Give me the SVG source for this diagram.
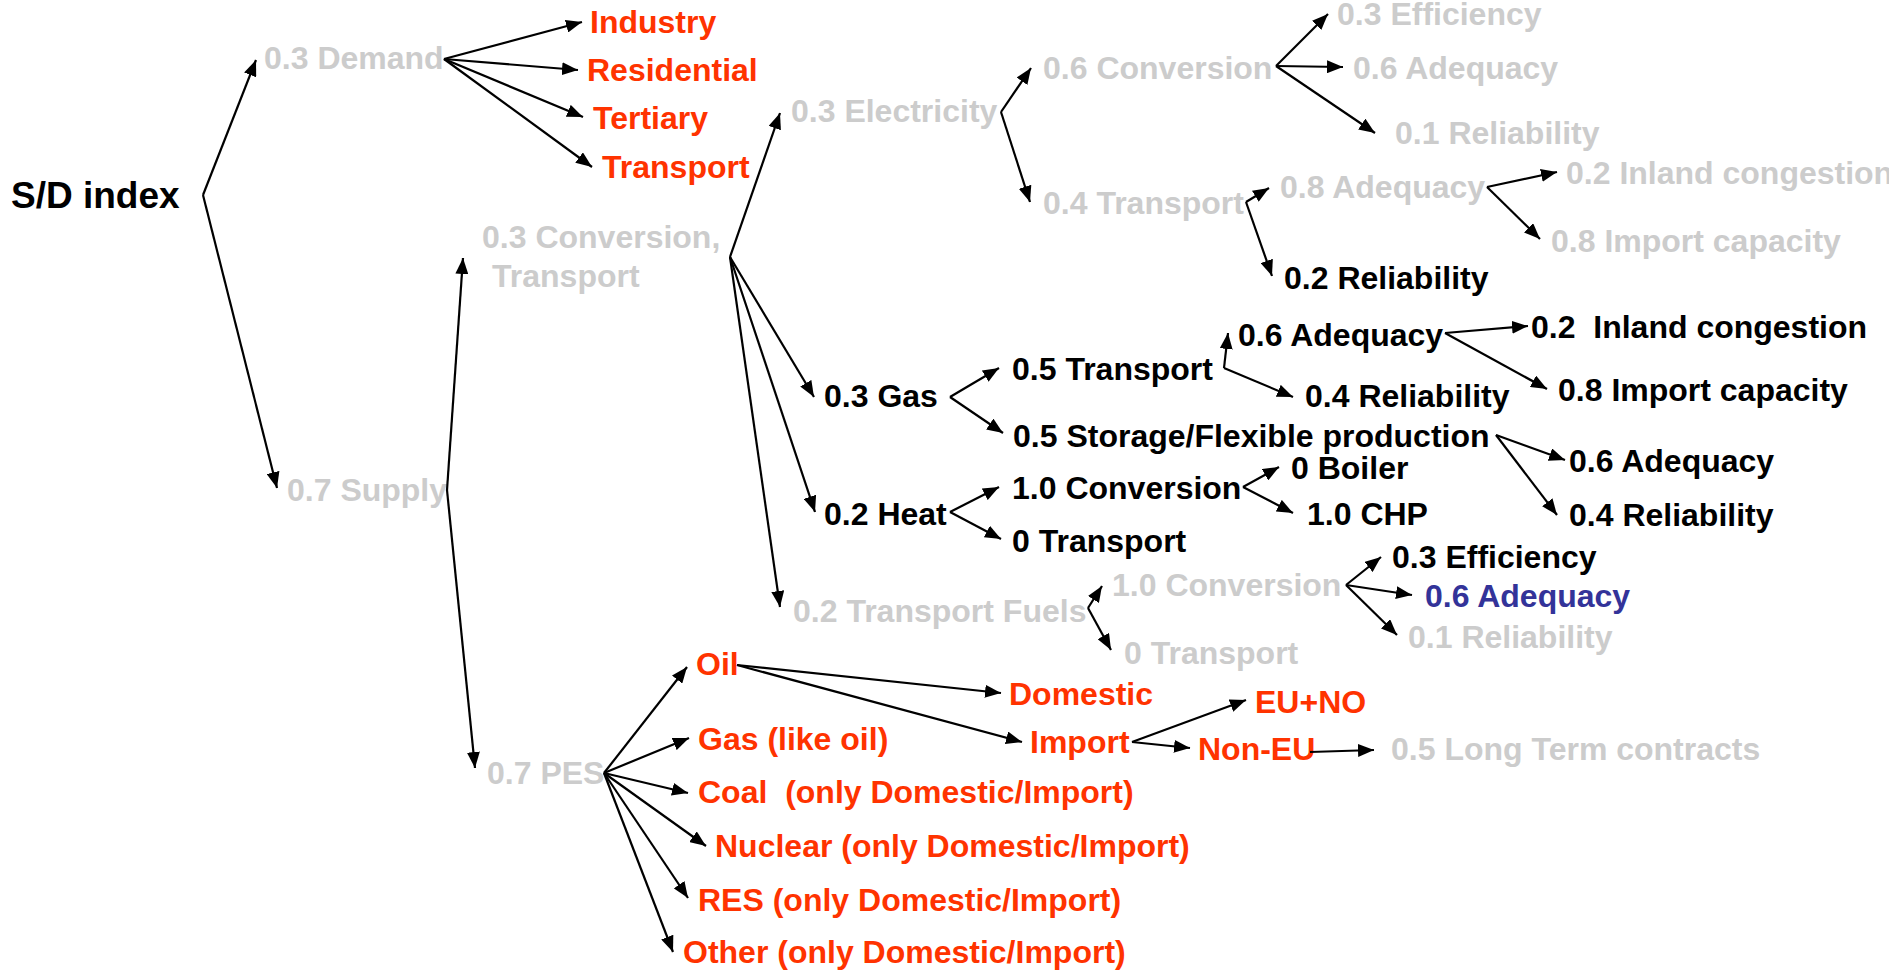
<svg xmlns="http://www.w3.org/2000/svg" width="1889" height="972" viewBox="0 0 1889 972">
<defs>
<marker id="ah" markerUnits="userSpaceOnUse" markerWidth="17" markerHeight="13" refX="16" refY="6.5" orient="auto">
<path d="M0,0 L16,6.5 L0,13 z" fill="#000"/>
</marker>
<style>
text{font-family:"Liberation Sans",Arial,sans-serif;font-weight:bold;font-size:32px;white-space:pre}
.g{fill:#cccccc}.r{fill:#ff3300}.k{fill:#000}.b{fill:#333399}
.c line{stroke:#000;stroke-width:2.2;marker-end:url(#ah)}
</style>
</defs>
<rect width="1889" height="972" fill="#fff"/>
<g id="root"><text class="k" x="11" y="208" style="font-size:37px">S/D index</text></g>
<g id="demand"><text class="g" x="264" y="69">0.3 Demand</text></g>
<g id="industry"><text class="r" x="590" y="33">Industry</text></g>
<g id="residential"><text class="r" x="587" y="81">Residential</text></g>
<g id="tertiary"><text class="r" x="593" y="129">Tertiary</text></g>
<g id="transport-d"><text class="r" x="602" y="178">Transport</text></g>
<g id="supply"><text class="g" x="287" y="501">0.7 Supply</text></g>
<g id="convtrans"><text class="g" x="482" y="248">0.3 Conversion,</text><text class="g" x="492" y="287">Transport</text></g>
<g id="electricity"><text class="g" x="791" y="122">0.3 Electricity</text></g>
<g id="e-conv"><text class="g" x="1043" y="79">0.6 Conversion</text></g>
<g id="e-conv-eff"><text class="g" x="1337" y="25">0.3 Efficiency</text></g>
<g id="e-conv-adq"><text class="g" x="1353" y="79">0.6 Adequacy</text></g>
<g id="e-conv-rel"><text class="g" x="1395" y="144">0.1 Reliability</text></g>
<g id="e-trans"><text class="g" x="1043" y="214">0.4 Transport</text></g>
<g id="e-trans-adq"><text class="g" x="1280" y="198">0.8 Adequacy</text></g>
<g id="e-inland"><text class="g" x="1566" y="184">0.2 Inland congestion</text></g>
<g id="e-import"><text class="g" x="1551" y="252">0.8 Import capacity</text></g>
<g id="e-trans-rel"><text class="k" x="1284" y="289">0.2 Reliability</text></g>
<g id="gas"><text class="k" x="824" y="407">0.3 Gas</text></g>
<g id="g-trans"><text class="k" x="1012" y="380">0.5 Transport</text></g>
<g id="g-adq"><text class="k" x="1238" y="346">0.6 Adequacy</text></g>
<g id="g-inland"><text class="k" x="1531" y="338">0.2  Inland congestion</text></g>
<g id="g-import"><text class="k" x="1558" y="401">0.8 Import capacity</text></g>
<g id="g-rel"><text class="k" x="1305" y="407">0.4 Reliability</text></g>
<g id="g-storage"><text class="k" x="1013" y="447">0.5 Storage/Flexible production</text></g>
<g id="s-adq"><text class="k" x="1569" y="472">0.6 Adequacy</text></g>
<g id="s-rel"><text class="k" x="1569" y="526">0.4 Reliability</text></g>
<g id="heat"><text class="k" x="824" y="525">0.2 Heat</text></g>
<g id="h-conv"><text class="k" x="1012" y="499">1.0 Conversion</text></g>
<g id="h-boiler"><text class="k" x="1291" y="479">0 Boiler</text></g>
<g id="h-chp"><text class="k" x="1307" y="525">1.0 CHP</text></g>
<g id="h-trans"><text class="k" x="1012" y="552">0 Transport</text></g>
<g id="tfuels"><text class="g" x="793" y="622">0.2 Transport Fuels</text></g>
<g id="t-conv"><text class="g" x="1112" y="596">1.0 Conversion</text></g>
<g id="t-eff"><text class="k" x="1392" y="568">0.3 Efficiency</text></g>
<g id="t-adq"><text class="b" x="1425" y="607">0.6 Adequacy</text></g>
<g id="t-rel"><text class="g" x="1408" y="648">0.1 Reliability</text></g>
<g id="t-trans"><text class="g" x="1124" y="664">0 Transport</text></g>
<g id="pes"><text class="g" x="487" y="784">0.7 PES</text></g>
<g id="oil"><text class="r" x="696" y="675">Oil</text></g>
<g id="domestic"><text class="r" x="1009" y="705">Domestic</text></g>
<g id="import"><text class="r" x="1030" y="753">Import</text></g>
<g id="euno"><text class="r" x="1255" y="713">EU+NO</text></g>
<g id="noneu"><text class="r" x="1198" y="760">Non-EU</text></g>
<g id="longterm"><text class="g" x="1391" y="760">0.5 Long Term contracts</text></g>
<g id="p-gas"><text class="r" x="698" y="750">Gas (like oil)</text></g>
<g id="p-coal"><text class="r" x="698" y="803">Coal  (only Domestic/Import)</text></g>
<g id="p-nuclear"><text class="r" x="715" y="857">Nuclear (only Domestic/Import)</text></g>
<g id="p-res"><text class="r" x="698" y="911">RES (only Domestic/Import)</text></g>
<g id="p-other"><text class="r" x="683" y="963">Other (only Domestic/Import)</text></g>
<g id="connectors" class="c">
<line x1="203" y1="195" x2="256" y2="60"/>
<line x1="203" y1="195" x2="277" y2="488"/>
<line x1="444" y1="59" x2="582" y2="22"/>
<line x1="444" y1="59" x2="578" y2="70"/>
<line x1="444" y1="59" x2="583" y2="117"/>
<line x1="444" y1="59" x2="592" y2="167"/>
<line x1="447" y1="490" x2="463" y2="258"/>
<line x1="447" y1="490" x2="475" y2="768"/>
<line x1="730" y1="257" x2="780" y2="113"/>
<line x1="730" y1="257" x2="814" y2="397"/>
<line x1="730" y1="257" x2="815" y2="512"/>
<line x1="730" y1="257" x2="780" y2="607"/>
<line x1="1001" y1="112" x2="1031" y2="68"/>
<line x1="1001" y1="112" x2="1030" y2="202"/>
<line x1="1276" y1="66" x2="1328" y2="14"/>
<line x1="1276" y1="66" x2="1343" y2="67"/>
<line x1="1276" y1="66" x2="1375" y2="133"/>
<line x1="1246" y1="202" x2="1269" y2="188"/>
<line x1="1246" y1="202" x2="1272" y2="276"/>
<line x1="1487" y1="187" x2="1557" y2="172"/>
<line x1="1487" y1="187" x2="1540" y2="239"/>
<line x1="950" y1="397" x2="999" y2="368"/>
<line x1="950" y1="397" x2="1003" y2="433"/>
<line x1="1224" y1="368" x2="1228" y2="333"/>
<line x1="1224" y1="368" x2="1293" y2="397"/>
<line x1="1445" y1="333" x2="1528" y2="326"/>
<line x1="1445" y1="333" x2="1547" y2="389"/>
<line x1="1496" y1="435" x2="1565" y2="460"/>
<line x1="1496" y1="435" x2="1557" y2="515"/>
<line x1="950" y1="512" x2="999" y2="487"/>
<line x1="950" y1="512" x2="1001" y2="539"/>
<line x1="1243" y1="487" x2="1279" y2="467"/>
<line x1="1243" y1="487" x2="1293" y2="513"/>
<line x1="1088" y1="608" x2="1102" y2="586"/>
<line x1="1088" y1="608" x2="1111" y2="650"/>
<line x1="1346" y1="585" x2="1381" y2="557"/>
<line x1="1346" y1="585" x2="1412" y2="595"/>
<line x1="1346" y1="585" x2="1397" y2="635"/>
<line x1="604" y1="773" x2="687" y2="667"/>
<line x1="604" y1="773" x2="689" y2="738"/>
<line x1="604" y1="773" x2="688" y2="793"/>
<line x1="604" y1="773" x2="706" y2="846"/>
<line x1="604" y1="773" x2="688" y2="898"/>
<line x1="604" y1="773" x2="673" y2="952"/>
<line x1="737" y1="665" x2="1001" y2="693"/>
<line x1="737" y1="665" x2="1022" y2="742"/>
<line x1="1132" y1="742" x2="1246" y2="700"/>
<line x1="1132" y1="742" x2="1190" y2="748"/>
<line x1="1310" y1="752" x2="1374" y2="750"/>
</g>
</svg>
